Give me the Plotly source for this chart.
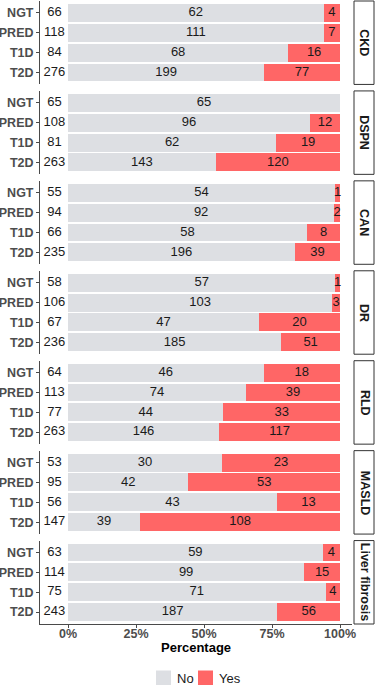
import plotly.graph_objects as go
from plotly.subplots import make_subplots

groups = ["NGT", "PRED", "T1D", "T2D"]
complications = ["CKD", "DSPN", "CAN", "DR", "RLD", "MASLD", "Liver fibrosis"]
no_counts = [
    [62, 111, 68, 199],
    [65, 96, 62, 143],
    [54, 92, 58, 196],
    [57, 103, 47, 185],
    [46, 74, 44, 146],
    [30, 42, 43, 39],
    [59, 99, 71, 187],
]
yes_counts = [
    [4, 7, 16, 77],
    [0, 12, 19, 120],
    [1, 2, 8, 39],
    [1, 3, 20, 51],
    [18, 39, 33, 117],
    [23, 53, 13, 108],
    [4, 15, 4, 56],
]
x_ticks = [0, 0.25, 0.5, 0.75, 1.0]
x_tick_labels = ["0%", "25%", "50%", "75%", "100%"]
legend_labels = ["No", "Yes"]

GREY = "#DDDFE3"
RED = "#FF6666"
AXC = "#4a4a4a"
FONT = "Liberation Sans, Arial, sans-serif"

W, H = 375, 685
ML, MR, MT, MB = 40, 23, 1, 61
plot_w = W - ML - MR
plot_h = H - MT - MB
bottom_px = H - MB
n = len(complications)
gap_px = 6.5


def px_x(p):
    return (p - ML) / plot_w


def px_y(p):
    return (bottom_px - p) / plot_h


fig = make_subplots(rows=n, cols=1, shared_xaxes=True,
                    vertical_spacing=gap_px / plot_h)

for i, comp in enumerate(complications):
    row = i + 1
    nos = no_counts[i]
    yess = yes_counts[i]
    tot = [a + b for a, b in zip(nos, yess)]
    no_frac = [a / t for a, t in zip(nos, tot)]
    yes_frac = [b / t for b, t in zip(yess, tot)]
    fig.add_trace(go.Bar(y=groups, x=no_frac, orientation="h", name="No",
                         marker=dict(color=GREY, line=dict(width=0)),
                         showlegend=False, hoverinfo="skip"), row=row, col=1)
    fig.add_trace(go.Bar(y=groups, x=yes_frac, orientation="h", name="Yes",
                         marker=dict(color=RED, line=dict(width=0)),
                         showlegend=False, hoverinfo="skip"), row=row, col=1)
    tx, ty, tt = [], [], []
    for g, a, b, nf, yf in zip(groups, nos, yess, no_frac, yes_frac):
        if a > 0:
            tx.append(nf / 2); ty.append(g); tt.append(str(a))
        if b > 0:
            tx.append(nf + yf / 2); ty.append(g); tt.append(str(b))
    fig.add_trace(go.Scatter(x=tx, y=ty, text=tt, mode="text",
                             textposition="middle center",
                             textfont=dict(family=FONT, size=13, color="#1a1a1a"),
                             showlegend=False, cliponaxis=False, hoverinfo="skip"),
                  row=row, col=1)
    fig.add_trace(go.Scatter(x=[-0.05] * len(groups), y=groups,
                             text=[str(t) for t in tot], mode="text",
                             textposition="middle center",
                             textfont=dict(family=FONT, size=13, color="#1a1a1a"),
                             showlegend=False, cliponaxis=False, hoverinfo="skip"),
                  row=row, col=1)
    last = row == n
    fig.update_xaxes(range=[-0.103, 1.044], tickvals=x_ticks, ticktext=x_tick_labels,
                     showgrid=False, zeroline=False,
                     showline=last, linecolor=AXC, linewidth=1,
                     ticks="outside" if last else "", ticklen=3, tickcolor=AXC,
                     showticklabels=last, ticklabelstandoff=-5,
                     tickfont=dict(family=FONT, size=12.5, color="#4D4D4D", weight="bold"),
                     automargin=False, row=row, col=1)
    fig.update_yaxes(type="category", categoryorder="array", categoryarray=groups,
                     range=[3.6, -0.6], showgrid=False, zeroline=False,
                     showline=True, linecolor=AXC, linewidth=1,
                     ticks="outside", ticklen=3, tickcolor=AXC,
                     tickfont=dict(family=FONT, size=12.5, color="#4D4D4D", weight="bold"),
                     automargin=False, row=row, col=1)
    yref = "y domain" if i == 0 else f"y{row} domain"
    fig.add_shape(type="rect", xref="paper", yref=yref,
                  x0=px_x(354), x1=px_x(374), y0=0, y1=1,
                  line=dict(color="#333333", width=1), fillcolor="white")
    fig.add_annotation(xref="paper", yref=yref, x=px_x(364.5), y=0.5,
                       text=f"<b>{comp}</b>", textangle=90, showarrow=False,
                       font=dict(family=FONT, size=12.5, color="#1a1a1a"),
                       xanchor="center", yanchor="middle")

fig.add_annotation(xref="paper", yref="paper", x=px_x(196), y=px_y(647),
                   text="<b>Percentage</b>", showarrow=False,
                   font=dict(family=FONT, size=13, color="black"),
                   xanchor="center", yanchor="middle")

# manual legend (keeps the plot area from being resized)
legend_colors = [GREY, RED]
key_x = [156, 198]
for lab, col, kx in zip(legend_labels, legend_colors, key_x):
    fig.add_shape(type="rect", xref="paper", yref="paper",
                  x0=px_x(kx), x1=px_x(kx + 15), y0=px_y(670.5), y1=px_y(685.5),
                  line=dict(width=0), fillcolor=col)
    fig.add_annotation(xref="paper", yref="paper", x=px_x(kx + 19), y=px_y(678),
                       text=lab, showarrow=False, xanchor="left", yanchor="middle",
                       font=dict(family=FONT, size=13, color="#1a1a1a"))

fig.update_layout(
    width=W, height=H,
    margin=dict(l=ML, r=MR, t=MT, b=MB, pad=0),
    barmode="stack", bargap=0.1,
    plot_bgcolor="white", paper_bgcolor="white",
    font=dict(family=FONT),
    showlegend=False,
)

fig.write_html("out.html", config={"displayModeBar": False},
               post_script="document.body.style.margin='0';document.body.style.overflow='hidden';")
